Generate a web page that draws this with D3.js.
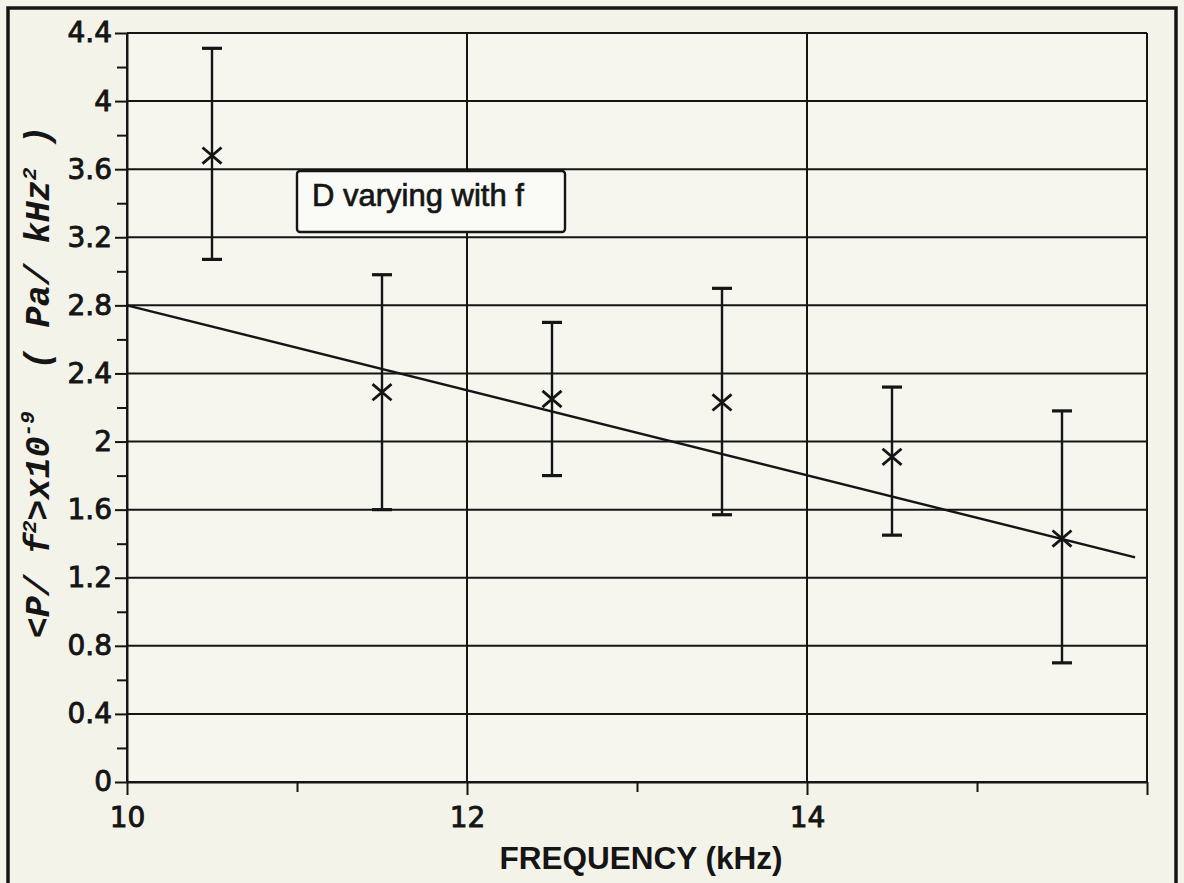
<!DOCTYPE html>
<html>
<head>
<meta charset="utf-8">
<script src="https://cdn.jsdelivr.net/npm/d3@7"></script>
<style>
  body { margin: 0; background: #f3f3ea; }
  svg { display: block; }
  .tick text { font-family: "DejaVu Sans", sans-serif; font-size: 28px; fill: #151515; stroke: #151515; stroke-width: 0.9px; }
</style>
</head>
<body>
<div id="chart"></div>
<script>
/*
Pressure / f^2 against frequency, with error bars and a fitted line
*/

// measured points (kHz) and their error bars
var freq    = [10.5, 11.5, 12.5, 13.5, 14.5, 15.5];
var meanVal = [3.68, 2.29, 2.25, 2.23, 1.91, 1.43];
var errHigh = [4.31, 2.98, 2.70, 2.90, 2.32, 2.18];
var errLow  = [3.07, 1.60, 1.80, 1.57, 1.45, 0.70];

// fitted straight line, end points
var fitFreq = [10, 15.93];
var fitVal  = [2.8, 1.32];

// axes
var xMajor  = [10, 12, 14, 16];
var xLabels = ["10", "12", "14", ""];
var xMinor  = [11, 13, 15];
var yMajor  = [0, 0.4, 0.8, 1.2, 1.6, 2, 2.4, 2.8, 3.2, 3.6, 4, 4.4];
var yLabels = ["0", "0.4", "0.8", "1.2", "1.6", "2", "2.4", "2.8", "3.2", "3.6", "4", "4.4"];
var yMinor  = [0.2, 0.6, 1, 1.4, 1.8, 2.2, 2.6, 3, 3.4, 3.8, 4.2];

var legendText = "D varying with f";

var width = 1184,
    height = 883;

var ink = "#151515";

var x = d3.scaleLinear()
    .domain([10, 16])
    .range([127, 1147]);

var y = d3.scaleLinear()
    .domain([0, 4.4])
    .range([782, 33]);

var svg = d3.select("#chart").append("svg")
    .attr("width", width)
    .attr("height", height);

svg.append("rect")
    .attr("width", width)
    .attr("height", height)
    .attr("fill", "#f3f3ea");

// outer frame (bottom edge runs off the page)
svg.append("path")
    .attr("d", "M8,890 L8,8 L1176,8 L1176,890")
    .attr("fill", "none")
    .attr("stroke", ink)
    .attr("stroke-width", 3.5);

// plot background
svg.append("rect")
    .attr("x", x(10)).attr("y", y(4.4))
    .attr("width", x(16) - x(10))
    .attr("height", y(0) - y(4.4))
    .attr("fill", "#f6f6ef");

// grid lines
svg.append("g").selectAll("line")
    .data(yMajor)
  .enter().append("line")
    .attr("x1", x(10)).attr("x2", x(16))
    .attr("y1", function(d) { return y(d); })
    .attr("y2", function(d) { return y(d); })
    .attr("stroke", ink)
    .attr("stroke-width", 2);

svg.append("g").selectAll("line")
    .data(xMajor)
  .enter().append("line")
    .attr("x1", function(d) { return x(d); })
    .attr("x2", function(d) { return x(d); })
    .attr("y1", y(0)).attr("y2", y(4.4))
    .attr("stroke", ink)
    .attr("stroke-width", 2);

// y axis
svg.append("g")
    .attr("transform", "translate(" + x(10) + ",0)")
    .call(d3.axisLeft(y)
        .tickValues(yMajor)
        .tickSize(12)
        .tickSizeOuter(0)
        .tickPadding(3)
        .tickFormat(function(d, i) { return yLabels[i]; }));

svg.append("g")
    .attr("transform", "translate(" + x(10) + ",0)")
    .call(d3.axisLeft(y)
        .tickValues(yMinor)
        .tickSize(10)
        .tickFormat(""))
    .select(".domain").remove();

// x axis
svg.append("g")
    .attr("transform", "translate(0," + y(0) + ")")
    .call(d3.axisBottom(x)
        .tickValues(xMajor)
        .tickSize(13)
        .tickSizeOuter(0)
        .tickPadding(12)
        .tickFormat(function(d, i) { return xLabels[i]; }));

svg.append("g")
    .attr("transform", "translate(0," + y(0) + ")")
    .call(d3.axisBottom(x)
        .tickValues(xMinor)
        .tickSize(10)
        .tickFormat(""))
    .select(".domain").remove();

svg.selectAll(".domain").attr("stroke", ink).attr("stroke-width", 2);
svg.selectAll(".tick line").attr("stroke", ink).attr("stroke-width", 2);

// fitted line
var line = d3.line()
    .x(function(d) { return x(d[0]); })
    .y(function(d) { return y(d[1]); });

svg.append("path")
    .datum(d3.zip(fitFreq, fitVal))
    .attr("d", line)
    .attr("fill", "none")
    .attr("stroke", ink)
    .attr("stroke-width", 2.4);

// error bars with caps
var pts = freq.map(function(f, i) {
    return { f: f, v: meanVal[i], hi: errHigh[i], lo: errLow[i] };
});

var bars = svg.append("g").selectAll("g")
    .data(pts)
  .enter().append("g")
    .attr("stroke", ink)
    .attr("stroke-width", 2.4);

bars.append("line")
    .attr("x1", function(d) { return x(d.f); })
    .attr("x2", function(d) { return x(d.f); })
    .attr("y1", function(d) { return y(d.hi); })
    .attr("y2", function(d) { return y(d.lo); });

var cap = 10;
["hi", "lo"].forEach(function(k) {
    bars.append("line")
        .attr("x1", function(d) { return x(d.f) - cap; })
        .attr("x2", function(d) { return x(d.f) + cap; })
        .attr("y1", function(d) { return y(d[k]); })
        .attr("y2", function(d) { return y(d[k]); })
        .attr("stroke-width", 3.2);
});

// x markers
var m = 9.5;
bars.append("path")
    .attr("d", function(d) {
        var cx = x(d.f), cy = y(d.v);
        return "M" + (cx - m) + "," + (cy - m * 0.85) + "L" + (cx + m) + "," + (cy + m * 0.85) +
               "M" + (cx - m) + "," + (cy + m * 0.85) + "L" + (cx + m) + "," + (cy - m * 0.85);
    })
    .attr("fill", "none")
    .attr("stroke-width", 2.8);

// legend box
var legend = svg.append("g");
legend.append("rect")
    .attr("x", 297).attr("y", 171)
    .attr("width", 268).attr("height", 61)
    .attr("rx", 3)
    .attr("fill", "#fafaf6")
    .attr("stroke", ink)
    .attr("stroke-width", 2.4);
legend.append("text")
    .attr("x", 312).attr("y", 206)
    .attr("font-family", "'Liberation Sans', Arial, sans-serif")
    .attr("font-size", 31)
    .attr("fill", ink)
    .attr("stroke", ink)
    .attr("stroke-width", 0.7)
    .text(legendText);

// axis titles
svg.append("text")
    .attr("x", (x(10) + x(16)) / 2 + 4)
    .attr("y", 869)
    .attr("text-anchor", "middle")
    .attr("font-family", "'Liberation Sans', Arial, sans-serif")
    .attr("font-size", 31.5)
    .attr("font-weight", "bold")
    .attr("fill", ink)
    .text("FREQUENCY (kHz)");

var yTitle = svg.append("text")
    .attr("transform", "translate(49,382) rotate(-90)")
    .attr("text-anchor", "middle")
    .attr("font-family", "'Liberation Mono', 'Courier New', monospace")
    .attr("font-style", "italic")
    .attr("font-weight", "bold")
    .attr("font-size", 35)
    .attr("fill", ink);

yTitle.append("tspan").text("<P/ f");
yTitle.append("tspan").attr("dy", -13).attr("font-size", 21).text("2");
yTitle.append("tspan").attr("dy", 13).text(">x10");
yTitle.append("tspan").attr("dy", -15).attr("font-size", 21).text("-9");
yTitle.append("tspan").attr("dy", 15).attr("xml:space", "preserve").text("  ( Pa/ kHz");
yTitle.append("tspan").attr("dy", -13).attr("font-size", 21).text("2");
yTitle.append("tspan").attr("dy", 13).text(" )");
</script>
</body>
</html>
